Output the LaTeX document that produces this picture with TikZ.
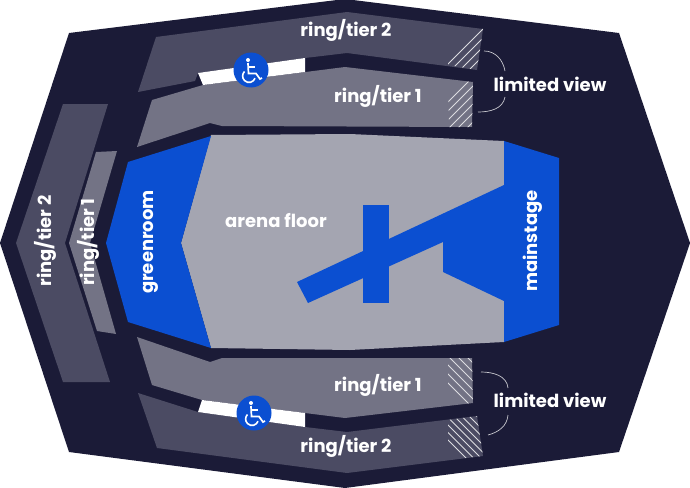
\documentclass[tikz,border=0pt]{standalone}
\usepackage{fontspec}
\setmainfont{Poppins}
\definecolor{navy}{HTML}{1B1B37}
\definecolor{tiertwo}{HTML}{4B4B63}
\definecolor{tierone}{HTML}{737385}
\definecolor{floorgray}{HTML}{A4A5B1}
\definecolor{stageblue}{HTML}{0B4FD1}
\tikzset{
	lbl/.style={text=white,font=\fontsize{18}{18}\selectfont\bfseries,inner sep=0pt},
	brace/.style={draw=white!75!navy,line width=0.7pt},
	hatch/.style={draw=white!85!navy,line width=0.9pt},
}
\begin{document}
\begin{tikzpicture}[x=1pt,y=-1pt]
	\useasboundingbox (0,0) rectangle (690,487);
	\fill[white] (0,0) rectangle (690,487);
	% outer shell
	\fill[navy] (345,-1) -- (619,33) -- (690,243) -- (619,452) -- (345,488) -- (69,452) -- (0,243) -- (69,33) -- cycle;
	% rings, top
	\fill[tiertwo] (156,37) -- (347,12) -- (483,29) -- (477,70) -- (347,53) -- (305,58) -- (198,73) -- (195,81) -- (138,92) -- cycle;
	\fill[tierone] (152,100) -- (203,85) -- (345,67) -- (473,82) -- (472,127) -- (222,126) -- (210,123) -- (137,147) -- cycle;
	\fill[white] (198,73) -- (305,58) -- (305,72) -- (203,85) -- cycle;
	% rings, bottom
	\fill[tierone] (137,337) -- (210,362) -- (222,358) -- (472,358) -- (473,403) -- (345,418) -- (305,413) -- (202,400) -- (152,385) -- cycle;
	\fill[tiertwo] (138,393) -- (198,412) -- (305,427) -- (347,432) -- (477,416) -- (483,456) -- (347,473) -- (157,448) -- cycle;
	\fill[white] (202,400) -- (305,413) -- (305,427) -- (198,412) -- cycle;
	% rings, left
	\fill[tiertwo] (63,104) -- (108,104) -- (65,243) -- (110,382) -- (63,382) -- (16,243) -- cycle;
	\fill[tierone] (96,152) -- (117,151) -- (90,243) -- (116,334) -- (97,331) -- (69,243) -- cycle;
	% limited view hatching
	\begin{scope}
		\clip (448,25) -- (483,29) -- (477,70) -- (448,65) -- cycle;
		\foreach \i in {0,...,10} \draw[hatch] (440+\i*9,72) -- +(50,-50);
	\end{scope}
	\begin{scope}
		\clip (448,80) -- (473,82) -- (472,127) -- (449,127) -- cycle;
		\foreach \i in {0,...,10} \draw[hatch] (420+\i*9,130) -- +(55,-55);
	\end{scope}
	\begin{scope}
		\clip (448,358) -- (472,358) -- (473,403) -- (448,405) -- cycle;
		\foreach \i in {0,...,10} \draw[hatch] (420+\i*9,355) -- +(55,55);
	\end{scope}
	\begin{scope}
		\clip (448,420) -- (477,416) -- (483,456) -- (448,460) -- cycle;
		\foreach \i in {0,...,12} \draw[hatch] (420+\i*7.5,412) -- +(55,55);
	\end{scope}
	% floor and stages
	\fill[floorgray] (211,135) -- (350,134) -- (504,141) -- (504,342) -- (350,350) -- (211,348) -- (181,243) -- cycle;
	\fill[stageblue] (211,136) -- (181,243) -- (211,348) -- (128,322) -- (106,243) -- (128,162) -- cycle;
	\fill[stageblue] (504,141) -- (559,158) -- (559,325) -- (504,342) -- (504,301) -- (443,272) -- (443,242) -- (308,303) -- (297,282) -- (504,185) -- cycle;
	\fill[stageblue] (363,205) rectangle (389,303);
	% access icons
	\foreach \cx/\cy in {251/70,254/413} {
		\begin{scope}[shift={(\cx,\cy)}]
			\fill[stageblue] (0,0) circle (17.5);
			\fill[white] (-3,-10) circle (2);
			\draw[white,line width=1.7pt] (-3,-7) -- (-2.5,3.5) -- (5,3.5) -- (9,9) -- (11,8);
			\draw[white,line width=1.3pt] (-2.5,-3) -- (4,-3);
			\draw[white,line width=1.6pt] (-6.5,1.5) arc (225:20:6.4);
		\end{scope}
	}
	% limited view braces
	\coordinate (tl1) at (484,51);
	\coordinate (tl2) at (505,71);
	\coordinate (tl3) at (505,97);
	\coordinate (tl4) at (478,112);
	\coordinate (bl1) at (481,372);
	\coordinate (bl2) at (508,388);
	\coordinate (bl3) at (508,415);
	\coordinate (bl4) at (488,435);
	\draw[brace] (tl1) to[out=0,in=100] (tl2);
	\draw[brace] (tl3) to[out=-100,in=0,looseness=1] (tl4);
	\draw[brace] (bl1) to[out=0,in=95] (bl2);
	\draw[brace] (bl3) to[out=-95,in=15] (bl4);
	% labels
	\node[lbl] (ringtwotop) at (346,30) {ring/tier 2};
	\node[lbl] (ringonetop) at (378,96) {ring/tier 1};
	\node[lbl] (viewtop) at (550,84) {limited view};
	\node[lbl] (ringonebot) at (378,385) {ring/tier 1};
	\node[lbl] (ringtwobot) at (346,446) {ring/tier 2};
	\node[lbl] (viewbot) at (550,400) {limited view};
	\node[lbl] (floorlbl) at (276,221) {arena floor};
	\node[lbl,rotate=90] (stagelbl) at (533,241) {mainstage};
	\node[lbl,rotate=90] (greenlbl) at (151,242) {greenroom};
	\node[lbl,rotate=90] (ringtwoleft) at (45,241) {ring/tier 2};
	\node[lbl,rotate=90] (ringoneleft) at (88,242) {ring/tier 1};
\end{tikzpicture}
\end{document}
